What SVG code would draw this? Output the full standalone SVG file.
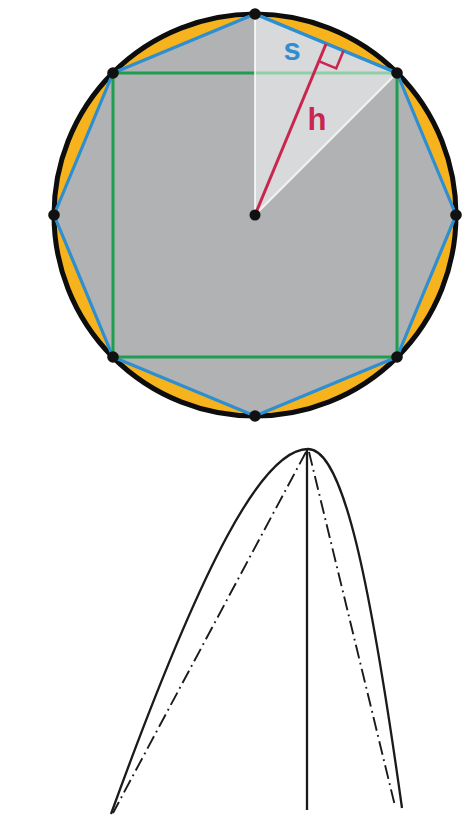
<svg xmlns="http://www.w3.org/2000/svg" width="473" height="816" viewBox="0 0 473 816">
<style>
.dot{fill:#111}
.lbl{font-family:"Liberation Sans",Arial,sans-serif;font-weight:bold;font-size:31px}
.solid{fill:none;stroke:#1a1a1a;stroke-width:2.3}
.dd{fill:none;stroke:#1a1a1a;stroke-width:1.9;stroke-dasharray:14 4.5 1.8 4.5}
</style>
<rect width="473" height="816" fill="#ffffff"/>
<g id="circle">
<circle cx="255" cy="215" r="201" fill="#F6B31E" stroke="#0d0d0d" stroke-width="5"/>
</g>
<g id="octagon">
<polygon points="255,14 397,73 456,215 397,357 255,416 113,357 54,215 113,73" fill="#B1B2B4" stroke="#2D8FD1" stroke-width="3.2" stroke-linejoin="round"/>
</g>
<g id="square">
<rect x="113" y="73" width="284" height="284" fill="none" stroke="#1E9E50" stroke-width="3"/>
</g>
<g id="triangle">
<polygon points="255,215 255,14 397,73" fill="#ffffff" fill-opacity="0.5"/>
<polyline points="397,73 255,215 255,14" fill="none" stroke="#ffffff" stroke-opacity="0.75" stroke-width="2"/>
<line x1="255" y1="14" x2="397" y2="73" stroke="#2D8FD1" stroke-width="3.2"/>
</g>
<g id="apothem">
<line x1="255" y1="215" x2="326" y2="44" stroke="#C8264F" stroke-width="3"/>
<polyline points="343.5,50.8 336.2,68.4 318.7,61.1" fill="none" stroke="#C8264F" stroke-width="2.6"/>
</g>
<g id="labels">
<text class="lbl" x="292" y="60" text-anchor="middle" fill="#2D8FD1">s</text>
<text class="lbl" x="317" y="130" text-anchor="middle" fill="#C8264F">h</text>
</g>
<g id="vertices">
<circle class="dot" cx="255" cy="14" r="5.8"/>
<circle class="dot" cx="397" cy="73" r="5.8"/>
<circle class="dot" cx="456" cy="215" r="5.8"/>
<circle class="dot" cx="397" cy="357" r="5.8"/>
<circle class="dot" cx="255" cy="416" r="5.8"/>
<circle class="dot" cx="113" cy="357" r="5.8"/>
<circle class="dot" cx="54" cy="215" r="5.8"/>
<circle class="dot" cx="113" cy="73" r="5.8"/>
<circle class="dot" cx="255" cy="215" r="5.5"/>
</g>
<g id="profile">
<path class="solid" d="M111,814 C203,560 263,449 308,449 C343,449 369.8,578 402,808"/>
<line class="solid" x1="307" y1="449" x2="307" y2="810"/>
<line class="dd" x1="306" y1="452" x2="113" y2="813"/>
<line class="dd" x1="309" y1="452" x2="395" y2="806"/>
</g>
</svg>
